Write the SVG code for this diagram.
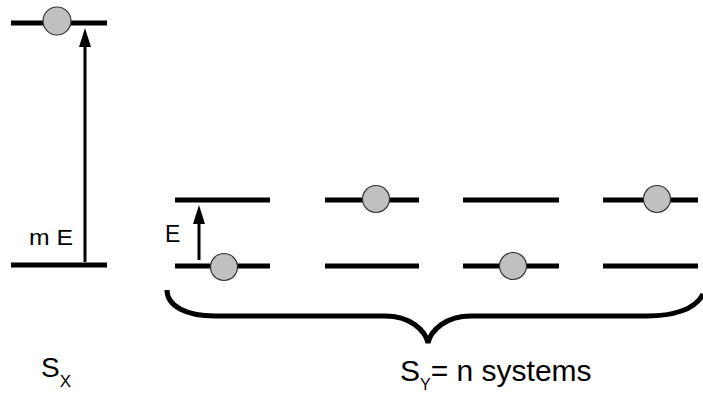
<svg xmlns="http://www.w3.org/2000/svg" width="703" height="394" viewBox="0 0 703 394">
<style>
.lvl{stroke:#000;stroke-width:5;fill:none}
.p{fill:#c0c0c0;stroke:#333;stroke-width:1.2}
.t{font-family:"Liberation Sans",Arial,sans-serif;fill:#000}
.ar{stroke:#000;stroke-width:3;fill:none}
.hd{fill:#000}
</style>
<rect width="703" height="394" fill="#fff"/>
<g id="sx">
<line class="lvl" x1="11" y1="23" x2="107" y2="23"/>
<line class="lvl" x1="11" y1="265" x2="107" y2="265"/>
<circle class="p" cx="57" cy="21" r="14"/>
</g>
<g id="sy">
<line class="lvl" x1="175" y1="200" x2="270" y2="200"/>
<line class="lvl" x1="325" y1="200" x2="419" y2="200"/>
<line class="lvl" x1="463" y1="200" x2="559" y2="200"/>
<line class="lvl" x1="603" y1="200" x2="698" y2="200"/>
<line class="lvl" x1="175" y1="266" x2="270" y2="266"/>
<line class="lvl" x1="325" y1="266" x2="419" y2="266"/>
<line class="lvl" x1="463" y1="266" x2="559" y2="266"/>
<line class="lvl" x1="603" y1="266" x2="698" y2="266"/>
<circle class="p" cx="376" cy="199" r="13.5"/>
<circle class="p" cx="657" cy="199" r="13.5"/>
<circle class="p" cx="224" cy="267" r="13.5"/>
<circle class="p" cx="513" cy="266" r="13.5"/>
</g>
<g id="connectors">
<line class="ar" x1="85" y1="262" x2="85" y2="44"/>
<polygon class="hd" points="85,28 91,47 79,47"/>
<line class="ar" x1="199" y1="260" x2="199" y2="220"/>
<polygon class="hd" points="199,205 205,224 193,224"/>
<path d="M167,290 C167,306 186,316 215,316 L385,316 C410,316 425,330 428,343 C431,330 446,316 471,316 L647,316 C672,316 695,310 703,294" stroke="#000" stroke-width="5" fill="none"/>
</g>
<g id="labels">
<text class="t" x="29" y="245" font-size="22" textLength="44" lengthAdjust="spacingAndGlyphs">m E</text>
<text class="t" x="165" y="242" font-size="23">E</text>
<text class="t" x="41" y="377" font-size="28">S<tspan font-size="17" dy="10">X</tspan></text>
<text class="t" x="400" y="381" font-size="30">S<tspan font-size="16" dy="9">Y</tspan><tspan dy="-9">= n systems</tspan></text>
</g>
</svg>
